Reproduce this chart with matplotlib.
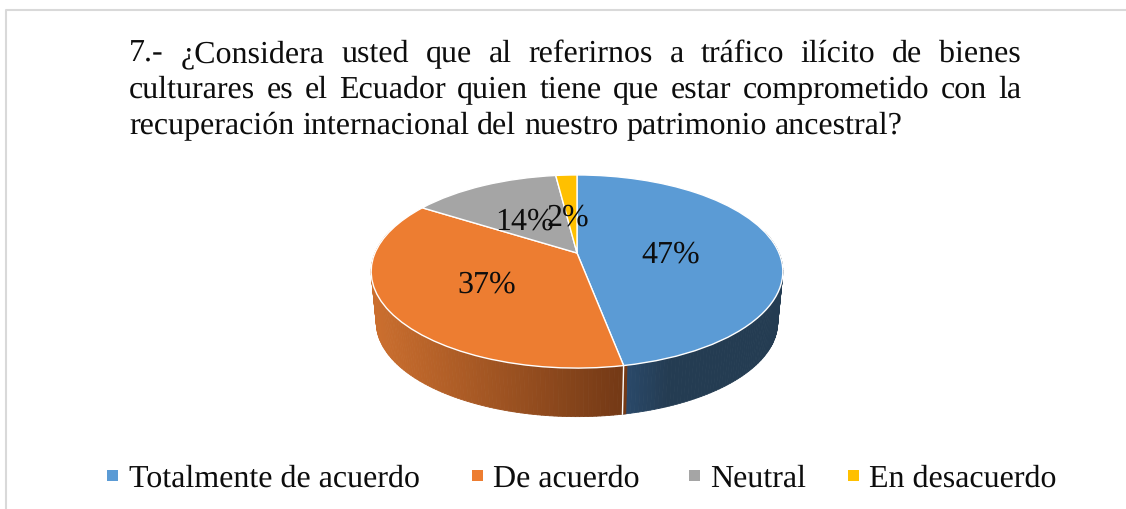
import matplotlib
matplotlib.use('Agg')
import matplotlib.pyplot as plt
import numpy as np
from matplotlib.collections import PolyCollection
from matplotlib.patches import Rectangle
from matplotlib.transforms import Transform

categories = ['Totalmente de acuerdo', 'De acuerdo', 'Neutral', 'En desacuerdo']
values = [47, 37, 14, 2]
colors = ['#5B9BD5', '#ED7D31', '#A5A5A5', '#FFC000']
title_lines = [
    '7.- ¿Considera usted que al referirnos a tráfico ilícito de bienes',
    'culturares es el Ecuador quien tiene que estar comprometido con la',
    'recuperación internacional del nuestro patrimonio ancestral?',
]

W, H = 1126, 510
FONT = 'Liberation Serif'
SIZE = 23
plt.rcParams['text.hinting'] = 'no_hinting'

# apex of the pie and perspective of the tilted disc, in pixels
CX, CY = 577, 254
TILT, KX, KY = 0.1917, 202, 93


class PieTilt(Transform):
    """Projects the unit circle of the pie onto the tilted disc."""
    input_dims = 2
    output_dims = 2
    is_separable = False
    has_inverse = False

    def __init__(self, shrink=1.0, drop=0.0):
        super().__init__()
        self.shrink = shrink
        self.drop = drop

    def transform_non_affine(self, values):
        x, y = np.asarray(values, dtype=float).T
        d = 1 + TILT * y
        px = CX + self.shrink * KX * x / d
        py = 272 + self.shrink * (CY - KY * y / d - 272) + self.drop
        return np.column_stack((px, py))


def wall_colour(frac, start, end):
    return tuple((1 - frac) * np.array(start) + frac * np.array(end))


fig = plt.figure(figsize=(W / 100, H / 100), dpi=100)
ax = fig.add_axes([0, 0, 1, 1])

wedges, _ = ax.pie(values, colors=colors, startangle=90, counterclock=False,
                   wedgeprops={'edgecolor': 'white', 'linewidth': 1.0})
ax.set_aspect('auto')
ax.set_xlim(0, W)
ax.set_ylim(H, 0)
ax.axis('off')

top = PieTilt()
bottom = PieTilt(shrink=0.975, drop=51)
for w in wedges:
    w.set_transform(top + ax.transData)
    w.set_zorder(3)

# side wall, one thin strip per step so the shading runs along the rim
wall_shades = [((36, 60, 82), (43, 75, 110)), ((117, 58, 22), (202, 110, 46)),
               ((120, 120, 120), (120, 120, 120)), ((150, 110, 0), (150, 110, 0))]
for w, (c0, c1) in zip(wedges, wall_shades):
    a = np.radians(np.arange(w.theta1, w.theta2 + 1, 1.0))
    a = a[np.sin(a) < 0.25]
    if len(a) < 2:
        continue
    rim = np.column_stack((np.cos(a), np.sin(a)))
    upper = top.transform(rim)
    lower = bottom.transform(rim)
    polys, cols = [], []
    for i in range(len(a) - 1):
        polys.append([upper[i], upper[i + 1], lower[i + 1], lower[i]])
        mid = (upper[i, 0] + upper[i + 1, 0]) / 2
        if c0[0] > 100:
            frac = np.clip((618 - mid) / (618 - 377), 0, 1)
        else:
            frac = np.clip((670 - mid) / (670 - 620), 0, 1)
        cols.append(tuple(v / 255 for v in wall_colour(frac, c0, c1)))
    ax.add_collection(PolyCollection(polys, facecolors=cols, edgecolors=cols,
                                     linewidths=0.6, zorder=1))

# white seam where the blue and orange walls meet
a = np.radians(wedges[0].theta1)
seam = np.array([[np.cos(a), np.sin(a)]])
p0, p1 = top.transform(seam)[0], bottom.transform(seam)[0]
ax.plot([p0[0], p1[0]], [p0[1], p1[1]], color='white', lw=1.0, zorder=2)

# percent labels
label_x = [671, 487, 525, 568]
label_y = [255, 285, 222, 218]
for v, x, y in zip(values, label_x, label_y):
    ax.text(x, y, f'{v}%', family=FONT, fontsize=SIZE, color='#0d0d0d',
            ha='center', va='center', zorder=5)

# chart frame, no right or bottom side inside the crop
ax.plot([6, 6, W], [H, 11, 11], color='#d9d9d9', lw=1.5, zorder=0)

# title is justified, so words are placed one at a time
renderer = fig.canvas.get_renderer()
baselines = [62, 98, 134]
for n, (line, base) in enumerate(zip(title_lines, baselines)):
    words = line.split(' ')
    texts = [ax.text(0, base, wd, family=FONT, fontsize=SIZE, color='#0d0d0d',
                     ha='left', va='baseline') for wd in words]
    widths = [t.get_window_extent(renderer).width for t in texts]
    if n < 2:
        gap = (1021 - 129 - sum(widths)) / (len(words) - 1)
    else:
        gap = SIZE * 100 / 72 * 0.25
    x = 129
    for t, wid in zip(texts, widths):
        t.set_x(x)
        x += wid + gap

# legend gaps are uneven in the reference, so it is laid out by hand
swatch_x = [107, 472, 689, 848]
label_left = [129, 493, 710, 869]
for name, col, sx, tx in zip(categories, colors, swatch_x, label_left):
    ax.add_patch(Rectangle((sx, 471), 11, 11, facecolor=col, edgecolor='none'))
    ax.text(tx, 487, name, family=FONT, fontsize=SIZE, color='#0d0d0d',
            ha='left', va='baseline')

fig.savefig('out.png', dpi=100)
plt.close(fig)
